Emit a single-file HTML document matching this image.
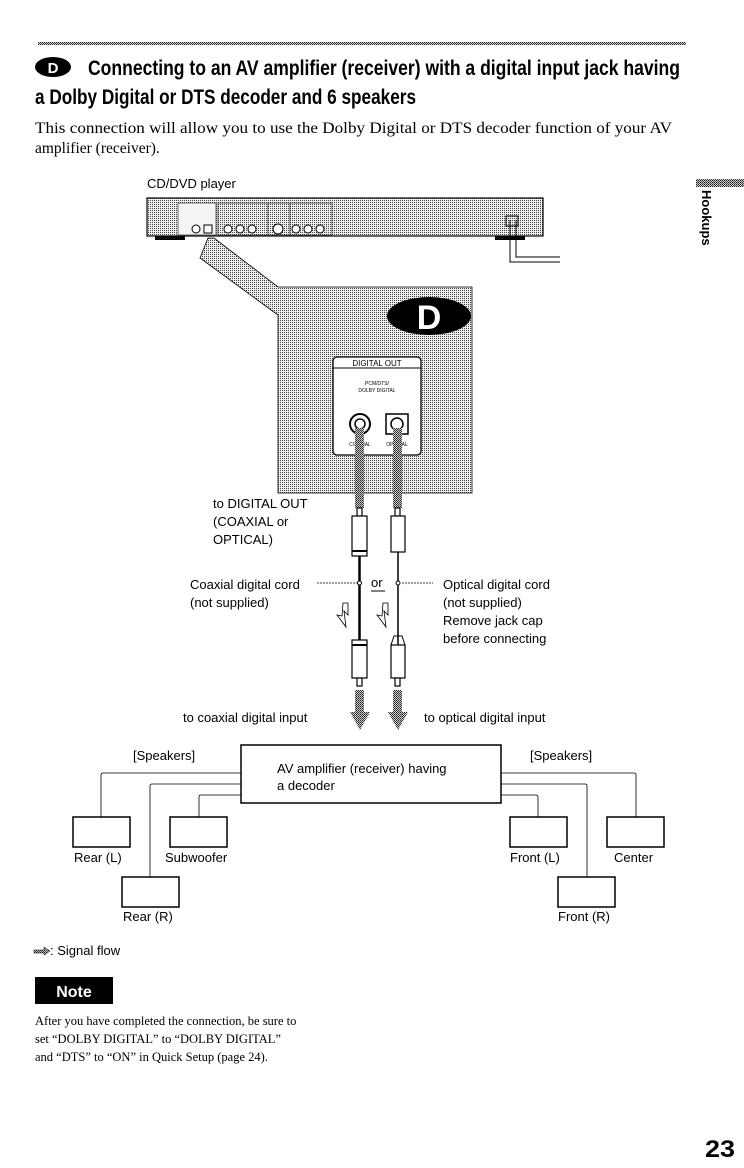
<!DOCTYPE html>
<html><head><meta charset="utf-8"><style>
body{margin:0;background:#fff;}
svg{display:block;}
.s{font-family:"Liberation Sans",sans-serif;}
.r{font-family:"Liberation Serif",serif;}
</style></head><body>
<svg width="744" height="1168" viewBox="0 0 744 1168" xmlns="http://www.w3.org/2000/svg">
<defs>
<pattern id="dot" width="2" height="2" patternUnits="userSpaceOnUse"><rect width="2" height="2" fill="#eee"/><rect width="1" height="1" fill="#444"/></pattern>
<pattern id="dk" width="2" height="2" patternUnits="userSpaceOnUse"><rect width="2" height="2" fill="#ccc"/><rect width="1" height="1" fill="#222"/><rect x="1" y="1" width="1" height="1" fill="#444"/></pattern>
</defs>
<rect x="38" y="42" width="648" height="3" fill="url(#dk)"/>
<ellipse cx="53" cy="67" rx="18" ry="10" fill="#000"/>
<text x="53" y="73" class="s" font-size="15" font-weight="bold" fill="#fff" text-anchor="middle">D</text>
<text x="88" y="75" class="s" font-size="21" font-weight="bold" textLength="592" lengthAdjust="spacingAndGlyphs">Connecting to an AV amplifier (receiver) with a digital input jack having</text>
<text x="35" y="104" class="s" font-size="21" font-weight="bold" textLength="381" lengthAdjust="spacingAndGlyphs">a Dolby Digital or DTS decoder and 6 speakers</text>
<text x="35" y="133" class="r" font-size="15.5" textLength="637" lengthAdjust="spacingAndGlyphs">This connection will allow you to use the Dolby Digital or DTS decoder function of your AV</text>
<text x="35" y="153" class="r" font-size="15.5">amplifier (receiver).</text>
<rect x="696" y="179" width="48" height="8" fill="url(#dk)"/>
<text x="0" y="0" class="s" font-size="13" font-weight="bold" transform="translate(702,190) rotate(90)">Hookups</text>
<text x="147" y="188" class="s" font-size="13">CD/DVD player</text>
<rect x="147" y="198" width="396" height="38" fill="url(#dot)" stroke="#000" stroke-width="1.2"/>
<rect x="178" y="203" width="38" height="32" fill="#f4f4f4" stroke="#444" stroke-width="0.8"/>
<rect x="218" y="203" width="50" height="32" fill="url(#dot)" stroke="#444" stroke-width="0.8"/>
<rect x="268" y="203" width="22" height="32" fill="url(#dot)" stroke="#444" stroke-width="0.8"/>
<rect x="290" y="203" width="42" height="32" fill="url(#dot)" stroke="#444" stroke-width="0.8"/>
<g fill="#fff" stroke="#000" stroke-width="1">
<circle cx="196" cy="229" r="4"/><rect x="204" y="225" width="8" height="8"/>
<circle cx="228" cy="229" r="4"/><circle cx="240" cy="229" r="4"/><circle cx="252" cy="229" r="4"/>
<circle cx="278" cy="229" r="5"/><circle cx="296" cy="229" r="4"/><circle cx="308" cy="229" r="4"/><circle cx="320" cy="229" r="4"/>
</g>
<rect x="155" y="236" width="30" height="4" fill="#000"/><rect x="495" y="236" width="30" height="4" fill="#000"/>
<rect x="506" y="216" width="12" height="10" fill="none" stroke="#000"/>
<path d="M510 220 V262 H560 M516 220 V257 H560" fill="none" stroke="#000" stroke-width="1"/>
<path d="M208 238 L214 238 L278 287 L472 287 L472 493 L278 493 L278 315 L200 258 Z" fill="url(#dot)" stroke="#000" stroke-width="0.8"/>
<ellipse cx="429" cy="316" rx="42" ry="19" fill="#000"/>
<text x="429" y="329" class="s" font-size="34" font-weight="bold" fill="#fff" text-anchor="middle">D</text>
<rect x="333" y="357" width="88" height="98" rx="4" fill="#fff" stroke="#000" stroke-width="1.3"/>
<line x1="333" y1="368" x2="421" y2="368" stroke="#000"/>
<text x="377" y="366" class="s" font-size="8" text-anchor="middle">DIGITAL OUT</text>
<text x="377" y="385" class="s" font-size="5" text-anchor="middle">PCM/DTS/</text>
<text x="377" y="392" class="s" font-size="5" text-anchor="middle">DOLBY DIGITAL</text>
<circle cx="360" cy="424" r="10" fill="#fff" stroke="#000" stroke-width="2"/><circle cx="360" cy="424" r="5" fill="#fff" stroke="#000" stroke-width="1.5"/>
<rect x="386" y="414" width="22" height="20" fill="#fff" stroke="#000" stroke-width="1.5"/><circle cx="397" cy="424" r="6" fill="#fff" stroke="#000" stroke-width="1.5"/>
<text x="360" y="446" class="s" font-size="5" text-anchor="middle">COAXIAL</text><text x="397" y="446" class="s" font-size="5" text-anchor="middle">OPTICAL</text>
<rect x="355" y="428" width="9" height="80" fill="url(#dk)"/>
<rect x="393" y="428" width="9" height="80" fill="url(#dk)"/>
<g fill="#fff" stroke="#000" stroke-width="1.2">
<rect x="357" y="508" width="5" height="8"/><rect x="352" y="516" width="15" height="40"/>
<rect x="395" y="508" width="5" height="8"/><rect x="391" y="516" width="14" height="36"/>
<rect x="352" y="640" width="15" height="38"/><rect x="357" y="678" width="5" height="8"/>
<rect x="391" y="645" width="14" height="33"/><rect x="395" y="678" width="5" height="8"/>
</g>
<line x1="352" y1="551" x2="367" y2="551" stroke="#000" stroke-width="2"/><line x1="352" y1="645" x2="367" y2="645" stroke="#000" stroke-width="2"/>
<line x1="359.5" y1="556" x2="359.5" y2="640" stroke="#000" stroke-width="2.5"/>
<line x1="398" y1="552" x2="398" y2="645" stroke="#000" stroke-width="1.5"/>
<path d="M391 645 L394 636 H402 L405 645" fill="none" stroke="#000"/>
<path d="M317 583 H357 M402 583 H433" stroke="#000" stroke-width="0.7" stroke-dasharray="2 1"/>
<circle cx="359.5" cy="583" r="2" fill="#fff" stroke="#000"/><circle cx="398" cy="583" r="2" fill="#fff" stroke="#000"/>
<text x="371" y="587" class="s" font-size="13">or</text><line x1="371" y1="591" x2="385" y2="591" stroke="#000"/>
<path d="M343 603 H348 V615 L344 611 L346 627 L337 615 L342 616 Z" fill="#fff" stroke="#000" stroke-width="0.8"/>
<path d="M383 603 H388 V615 L384 611 L386 627 L377 615 L382 616 Z" fill="#fff" stroke="#000" stroke-width="0.8"/>
<g fill="url(#dk)"><path d="M355 690 H364 V712 H370 L360 730 L350 712 H355 Z"/><path d="M393 690 H402 V712 H408 L398 730 L388 712 H393 Z"/></g>
<rect x="241" y="745" width="260" height="58" fill="#fff" stroke="#000" stroke-width="1.5"/>
<g fill="none" stroke="#000" stroke-width="0.8">
<path d="M241 773 H103 Q101 773 101 775 V817"/>
<path d="M241 784 H152 Q150 784 150 786 V877"/>
<path d="M241 795 H201 Q199 795 199 797 V817"/>
<path d="M501 773 H634 Q636 773 636 775 V817"/>
<path d="M501 784 H585 Q587 784 587 786 V877"/>
<path d="M501 795 H536 Q538 795 538 797 V817"/>
</g>
<g fill="#fff" stroke="#000" stroke-width="1.5">
<rect x="73" y="817" width="57" height="30"/><rect x="170" y="817" width="57" height="30"/>
<rect x="510" y="817" width="57" height="30"/><rect x="607" y="817" width="57" height="30"/>
<rect x="122" y="877" width="57" height="30"/><rect x="558" y="877" width="57" height="30"/>
</g>
<g class="s" font-size="13">
<text x="213" y="508">to DIGITAL OUT</text>
<text x="213" y="526">(COAXIAL or</text>
<text x="213" y="544">OPTICAL)</text>
<text x="190" y="589">Coaxial digital cord</text>
<text x="190" y="607">(not supplied)</text>
<text x="443" y="589">Optical digital cord</text>
<text x="443" y="607">(not supplied)</text>
<text x="443" y="625">Remove jack cap</text>
<text x="443" y="643">before connecting</text>
<text x="183" y="722">to coaxial digital input</text>
<text x="424" y="722">to optical digital input</text>
<text x="133" y="760">[Speakers]</text>
<text x="530" y="760">[Speakers]</text>
<text x="277" y="773">AV amplifier (receiver) having</text>
<text x="277" y="790">a decoder</text>
<text x="74" y="862">Rear (L)</text>
<text x="165" y="862">Subwoofer</text>
<text x="510" y="862">Front (L)</text>
<text x="614" y="862">Center</text>
<text x="123" y="921">Rear (R)</text>
<text x="558" y="921">Front (R)</text>
<text x="50" y="955">: Signal flow</text>
</g>
<path d="M34 950 H44 V947 L50 951 L44 955 V953 H34 Z" fill="url(#dk)" stroke="#000" stroke-width="0.5"/>
<rect x="35" y="977" width="78" height="27" fill="#000"/>
<text x="74" y="997" class="s" font-size="16" font-weight="bold" fill="#fff" text-anchor="middle">Note</text>
<g class="r" font-size="12.5">
<text x="35" y="1025">After you have completed the connection, be sure to</text>
<text x="35" y="1043">set “DOLBY DIGITAL” to “DOLBY DIGITAL”</text>
<text x="35" y="1061">and “DTS” to “ON” in Quick Setup (page 24).</text>
</g>
<text x="705" y="1157" class="s" font-size="24" font-weight="bold" textLength="30" lengthAdjust="spacingAndGlyphs">23</text>
</svg>
</body></html>
